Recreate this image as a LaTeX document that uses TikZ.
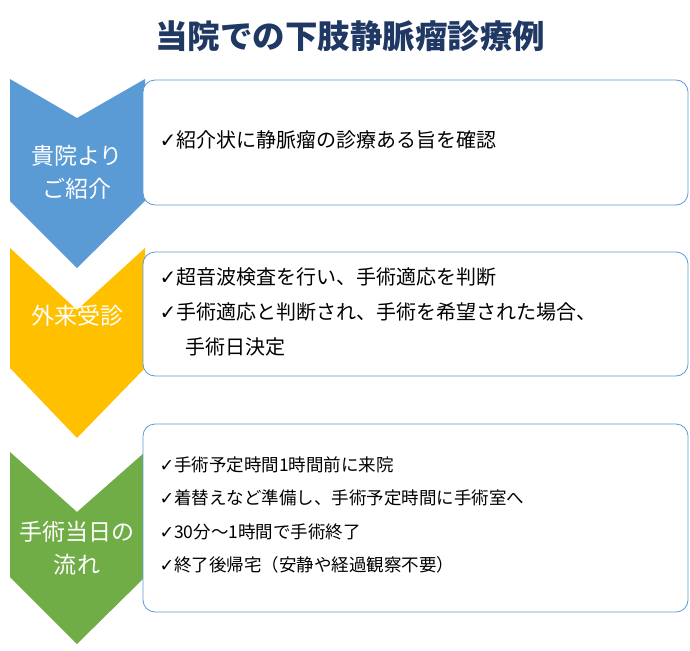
\documentclass[tikz,border=0pt]{standalone}
\usepackage{fontspec}
\setmainfont{Noto Sans CJK JP}
\newfontfamily\ck{DejaVu Sans}
\newcommand{\ok}{{\ck ✓}}
\definecolor{cblue}{HTML}{5B9BD5}
\definecolor{cyel}{HTML}{FFC000}
\definecolor{cgrn}{HTML}{70AD47}
\definecolor{navy}{HTML}{1F3864}
\begin{document}
\begin{tikzpicture}[x=1pt,y=-1pt,
  box/.style={draw=cblue,line width=0.8pt,rounded corners=12pt,fill=white},
  ctext/.style={text=white,font=\fontsize{23}{33}\selectfont,align=center},
  btext/.style={anchor=west,font=\fontsize{20}{35}\selectfont,align=left},
  btext2/.style={anchor=west,font=\fontsize{17.5}{33.5}\selectfont,align=left}]
\useasboundingbox (0,0) rectangle (690,650);
\node[font=\fontsize{32.5}{36}\selectfont\bfseries,text=navy] (title) at (350,36) {当院での下肢静脈瘤診療例};
% chevrons
\fill[cblue] (10,79) -- (77,118) -- (145,79) -- (145,201) -- (77,268) -- (10,201) -- cycle;
\fill[cyel] (10,248) -- (77,310) -- (145,248) -- (145,368) -- (77,438) -- (10,368) -- cycle;
\fill[cgrn] (10,452) -- (77,512) -- (145,452) -- (145,577) -- (77,644) -- (10,577) -- cycle;
% boxes
\draw[box] (143,80) rectangle (688,205);
\draw[box] (143,252) rectangle (688,376);
\draw[box] (143,424) rectangle (688,612);
% chevron labels
\node[ctext] (c1) at (77,172) {貴院より\\ご紹介};
\node[ctext] (c2) at (77,316) {外来受診};
\node[ctext] (c3) at (77,548) {手術当日の\\流れ};
% box texts
\node[btext] (t1) at (156,140) {\ok 紹介状に静脈瘤の診療ある旨を確認};
\node[btext] (t2) at (156,312) {\ok 超音波検査を行い、手術適応を判断\\\ok 手術適応と判断され、手術を希望された場合、\\\hspace{1.3em}手術日決定};
\node[btext2] (t3) at (156,515) {\ok 手術予定時間1時間前に来院\\\ok 着替えなど準備し、手術予定時間に手術室へ\\\ok 30分～1時間で手術終了\\\ok 終了後帰宅（安静や経過観察不要）};
\end{tikzpicture}
\end{document}
